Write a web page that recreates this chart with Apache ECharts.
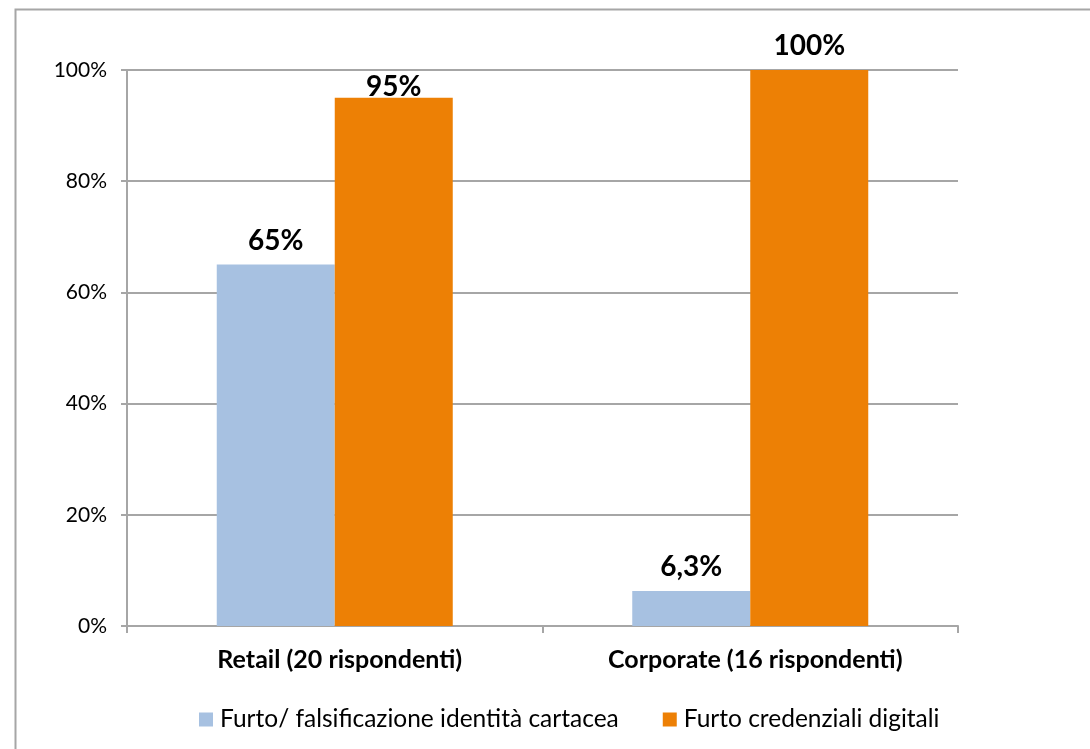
<!DOCTYPE html>
<html>
<head>
<meta charset="utf-8">
<script src="https://cdn.jsdelivr.net/npm/echarts@6/dist/echarts.min.js"></script>
<style>
html,body{margin:0;padding:0;background:#fff;}
#c{width:1090px;height:749px;}
</style>
</head>
<body>
<div id="c"></div>
<script>
const categories = ['Retail (20 rispondenti)', 'Corporate (16 rispondenti)'];
const seriesNames = ['Furto/ falsificazione identità cartacea', 'Furto credenziali digitali'];
const cartacea = [65, 6.3];
const digitali = [95, 100];
const yTicks = [0, 20, 40, 60, 80, 100];

const FONT = 'Lato, "Open Sans", sans-serif';
const GRAY = '#A6A6A6';
const fmt = v => String(v).replace('.', ',') + '%';

const chart = echarts.init(document.getElementById('c'));
const labelBase = {
  show: true, position: 'top', distance: 10,
  color: '#000', fontFamily: FONT, fontWeight: 'bold', fontSize: 28,
  formatter: p => fmt(p.value)
};
chart.setOption({
  backgroundColor: '#fff',
  animation: false,
  graphic: [{
    type: 'rect', left: 13, top: 7, z: 100,
    shape: { x: 0, y: 0, width: 1200, height: 900 },
    style: { fill: 'none', stroke: GRAY, lineWidth: 2 },
    silent: true
  }],
  grid: { left: 127, right: 132, top: 70, bottom: 123, containLabel: false },
  legend: {
    left: 194, top: 702,
    itemWidth: 14, itemHeight: 14, itemGap: 44,
    icon: 'rect',
    textStyle: { fontFamily: FONT, fontSize: 24.5, color: '#000', padding: [0, 0, 0, 2] },
    data: seriesNames
  },
  xAxis: {
    type: 'category', data: categories,
    axisLine: { show: true, lineStyle: { color: GRAY, width: 2 } },
    axisTick: { show: true, length: 7, lineStyle: { color: GRAY, width: 2 } },
    axisLabel: { margin: 21, color: '#000', fontFamily: FONT, fontWeight: 'bold', fontSize: 25, padding: [0, 0, 0, 10] }
  },
  yAxis: {
    type: 'value', min: yTicks[0], max: yTicks[yTicks.length - 1], interval: yTicks[1] - yTicks[0],
    axisLine: { show: true, lineStyle: { color: GRAY, width: 2 } },
    axisTick: { show: true, length: 6, lineStyle: { color: GRAY, width: 2 } },
    splitLine: { show: true, lineStyle: { color: GRAY, width: 2 } },
    axisLabel: { margin: 20, color: '#000', fontFamily: FONT, fontSize: 21, formatter: v => v + '%' }
  },
  series: [
    {
      name: seriesNames[0], type: 'bar', barWidth: 118, barGap: '0%',
      itemStyle: { color: '#A7C1E1' },
      label: labelBase,
      data: cartacea
    },
    {
      name: seriesNames[1], type: 'bar', barWidth: 118, barGap: '0%',
      itemStyle: { color: '#ED8005' },
      label: labelBase,
      data: digitali.map((v, i) => i === 0 ? { value: v, label: { distance: -3 } } : v)
    }
  ]
});
</script>
</body>
</html>
